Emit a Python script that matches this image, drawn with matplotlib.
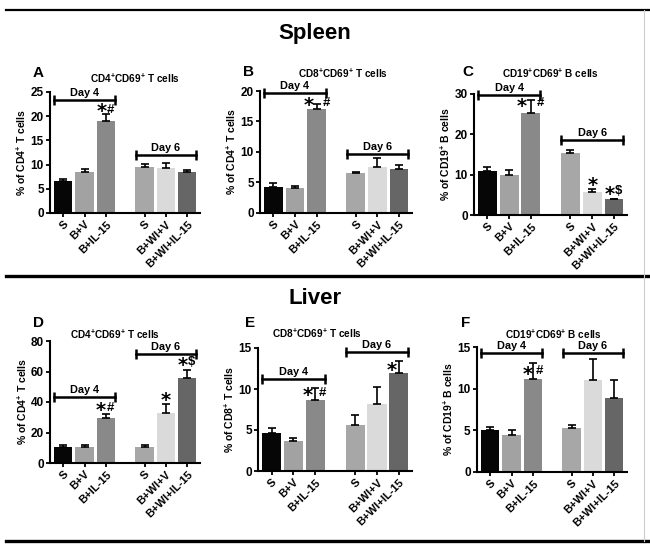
import matplotlib
matplotlib.use('Agg')
import matplotlib.pyplot as plt
from matplotlib.lines import Line2D

plt.rcParams['font.family'] = ['Liberation Sans', 'DejaVu Sans']
plt.rcParams['mathtext.default'] = 'regular'
plt.rcParams['font.weight'] = 'bold'

# ---------------- data ----------------
groups = ['S', 'B+V', 'B+IL-15', 'S', 'B+WI+V', 'B+WI+IL-15']
bar_colors = ['#060606', '#a2a2a2', '#898989', '#a7a7a7', '#dadada', '#666666']

a_vals = [6.6, 8.5, 19.0, 9.6, 9.2, 8.5]
a_errs = [0.4, 0.5, 1.5, 0.5, 1.2, 0.3]
b_vals = [4.3, 4.05, 17.0, 6.5, 7.5, 7.2]
b_errs = [0.6, 0.3, 0.9, 0.3, 1.5, 0.6]
c_vals = [10.9, 10.0, 25.3, 15.3, 5.8, 3.9]
c_errs = [1.0, 1.2, 3.1, 0.9, 0.6, 0.15]
d_vals = [10.2, 10.6, 29.8, 10.6, 32.5, 55.5]
d_errs = [1.3, 1.4, 2.5, 1.3, 6.5, 5.8]
e_vals = [4.6, 3.6, 8.6, 5.6, 8.2, 11.9]
e_errs = [0.6, 0.4, 1.5, 1.2, 2.0, 1.5]
f_vals = [5.0, 4.5, 11.2, 5.3, 11.0, 8.9]
f_errs = [0.4, 0.55, 1.9, 0.4, 2.6, 2.1]

titles = ['CD4$^{+}$CD69$^{+}$ T cells', 'CD8$^{+}$CD69$^{+}$ T cells', 'CD19$^{+}$CD69$^{+}$ B cells',
          'CD4$^{+}$CD69$^{+}$ T cells', 'CD8$^{+}$CD69$^{+}$ T cells', 'CD19$^{+}$CD69$^{+}$ B cells']
ylabels = ['% of CD4$^{+}$ T cells', '% of CD4$^{+}$ T cells', '% of CD19$^{+}$ B cells',
           '% of CD4$^{+}$ T cells', '% of CD8$^{+}$ T cells', '% of CD19$^{+}$ B cells']
letters = ['A', 'B', 'C', 'D', 'E', 'F']
yticks = [[0, 5, 10, 15, 20, 25], [0, 5, 10, 15, 20], [0, 10, 20, 30],
          [0, 20, 40, 60, 80], [0, 5, 10, 15], [0, 5, 10, 15]]
day_labels = ['Day 4', 'Day 6']
day4_y = [23.3, 19.7, 29.8, 43.5, 11.2, 14.3]
day6_y = [12.0, 9.7, 18.5, 71.7, 14.5, 14.3]

# significance marks: (bar index, text, x offset, y)
marks = [
    [(2, '*', -0.2, 21.0), (2, '#', 0.22, 21.3)],
    [(2, '*', -0.37, 17.6), (2, '#', 0.45, 18.0)],
    [(2, '*', -0.44, 27.0), (2, '#', 0.42, 27.8), (4, '*', 0.0, 7.2), (5, '*', -0.2, 5.2), (5, '$', 0.2, 6.0)],
    [(2, '*', -0.22, 34.5), (2, '#', 0.22, 35.8), (4, '*', 0.0, 41.0), (5, '*', -0.2, 64.0), (5, '$', 0.2, 66.0)],
    [(2, '*', -0.36, 9.2), (2, '#', 0.32, 9.5), (5, '*', -0.33, 12.3)],
    [(2, '*', -0.25, 11.7), (2, '#', 0.3, 12.1)],
]

all_vals = [a_vals, b_vals, c_vals, d_vals, e_vals, f_vals]
all_errs = [a_errs, b_errs, c_errs, d_errs, e_errs, f_errs]

# ---------------- layout ----------------
W, H = 650, 550
fig = plt.figure(figsize=(6.5, 5.5), dpi=100)

def rect(x0, x1, ytop, ybot):
    return [x0 / W, 1 - ybot / H, (x1 - x0) / W, (ybot - ytop) / H]

rects = [rect(50, 200, 92, 213), rect(260, 412, 91, 213), rect(474, 627, 94, 215),
         rect(50, 200, 341, 463), rect(258, 412, 348, 471), rect(477, 627, 347, 472)]
letter_pos = [(38, 73), (248, 72), (468, 72), (38, 323), (250, 323), (466, 323)]
title_pos = [(135, 78), (343, 73), (550, 73), (115, 334), (317, 333), (553, 334)]

xpos = [0, 1, 2, 3.82, 4.82, 5.82]
bw = 0.87

for i in range(6):
    ax = fig.add_axes(rects[i])
    vals, errs = all_vals[i], all_errs[i]
    ax.bar(xpos, vals, bw, color=bar_colors, zorder=2)
    ax.errorbar(xpos, vals, yerr=[[0] * 6, errs], fmt='none', ecolor='black',
                elinewidth=1.2, capsize=3.2, capthick=1.2, zorder=3)
    ax.set_xlim(-0.62, 6.42)
    ax.set_ylim(0, yticks[i][-1])
    ax.set_yticks(yticks[i])
    ax.set_yticklabels([str(t) for t in yticks[i]], fontsize=8.5, fontweight='bold')
    ax.set_xticks(xpos)
    ax.set_xticklabels(groups, rotation=45, ha='right', rotation_mode='anchor',
                       fontsize=8, fontweight='bold')
    ax.tick_params(axis='both', direction='out', length=3, width=1.3, pad=1.5)
    for s in ['top', 'right']:
        ax.spines[s].set_visible(False)
    for s in ['left', 'bottom']:
        ax.spines[s].set_linewidth(1.5)
    ax.set_ylabel(ylabels[i], fontsize=7.5, fontweight='bold', labelpad=1.5)
    # day brackets
    for (g0, g1, yv, lab) in [(0, 2, day4_y[i], day_labels[0]), (3, 5, day6_y[i], day_labels[1])]:
        x0, x1 = xpos[g0] - 0.42, xpos[g1] + 0.42
        ax.plot([x0, x1], [yv, yv], color='black', lw=1.8, marker='|', markersize=7,
                mew=1.8, clip_on=False, zorder=4)
        ax.annotate(lab, ((x0 + x1) / 2, yv), xytext=(0, 1.5), textcoords='offset points',
                    ha='center', va='bottom', fontsize=7.8, fontweight='bold', annotation_clip=False)
    for (bi, txt, dx, yv) in marks[i]:
        if txt == '*':
            ax.text(xpos[bi] + dx, yv, txt, ha='center', va='center', fontsize=14,
                    fontweight='bold', family=['DejaVu Sans'], clip_on=False)
        else:
            ax.text(xpos[bi] + dx, yv, txt, ha='center', va='center', fontsize=9.5,
                    fontweight='bold', clip_on=False)
    lx, ly = letter_pos[i]
    fig.text(lx / W, 1 - ly / H, letters[i], fontsize=11, fontweight='bold', ha='center', va='center')
    tx, ty = title_pos[i]
    fig.text(tx / W, 1 - ty / H, titles[i], fontsize=7.2, fontweight='bold', ha='center', va='center')

fig.text(315 / W, 1 - 33 / H, 'Spleen', fontsize=16, fontweight='bold', ha='center', va='center')
fig.text(315 / W, 1 - 298 / H, 'Liver', fontsize=16, fontweight='bold', ha='center', va='center')

fig.add_artist(Line2D([6 / W, 1.0], [1 - 10 / H, 1 - 10 / H], color='black', lw=1.6))
fig.add_artist(Line2D([6 / W, 1.0], [1 - 276 / H, 1 - 276 / H], color='black', lw=2.4))
fig.add_artist(Line2D([6 / W, 1.0], [1 - 541 / H, 1 - 541 / H], color='black', lw=2.4))
fig.add_artist(Line2D([644 / W, 644 / W], [1 - 10 / H, 1 - 541 / H], color='#cccccc', lw=0.8))

fig.savefig('out.png', dpi=100)
